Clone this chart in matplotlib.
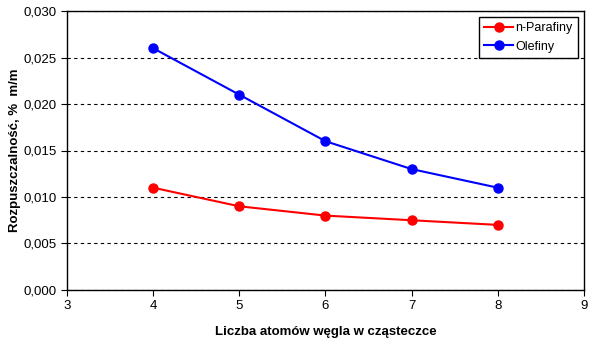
import matplotlib

matplotlib.use('Agg')

import matplotlib.pyplot as plt
from matplotlib.ticker import FuncFormatter

plt.rcParams['font.family'] = ['Liberation Sans', 'DejaVu Sans']

# liczba atomow wegla i rozpuszczalnosc
carbons = [4, 5, 6, 7, 8]
parafiny = [0.011, 0.009, 0.008, 0.0075, 0.007]
olefiny = [0.026, 0.021, 0.016, 0.013, 0.011]

fig = plt.figure(figsize=(5.97, 3.44), dpi=100)
ax = fig.add_axes([0.1122, 0.157, 0.866, 0.811])

ax.plot(carbons, parafiny, color='#ff0000', marker='o', markersize=6.5, linewidth=1.5, label='n-Parafiny')
ax.plot(carbons, olefiny, color='#0000ff', marker='o', markersize=6.5, linewidth=1.5, label='Olefiny')

ax.set_xlim(3, 9)
ax.set_ylim(0, 0.030)
ax.set_xticks(range(3, 10))
ax.set_yticks([0, 0.005, 0.010, 0.015, 0.020, 0.025, 0.030])
ax.yaxis.set_major_formatter(FuncFormatter(lambda v, p: ('%.3f' % v).replace('.', ',')))
ax.tick_params(direction='out', length=4, labelsize=9.5, colors='black')
ax.yaxis.grid(True, linestyle=(0, (3, 3)), color='black', linewidth=0.8)

for s in ax.spines.values():
    s.set_linewidth(1)

ax.set_xlabel('Liczba atomów węgla w cząsteczce', fontsize=9.5, fontweight='bold', labelpad=10)
ax.set_ylabel('Rozpuszczalność, %  m/m', fontsize=9.5, fontweight='bold', labelpad=2)

leg = ax.legend(loc='upper right', fontsize=9, frameon=True, fancybox=False,
                edgecolor='black', framealpha=1, borderpad=0.4, handlelength=2.3,
                handletextpad=0.2, labelspacing=0.5, borderaxespad=0,
                bbox_to_anchor=(0.988, 0.977))
leg.get_frame().set_linewidth(1)

fig.savefig('out.png', dpi=100)
